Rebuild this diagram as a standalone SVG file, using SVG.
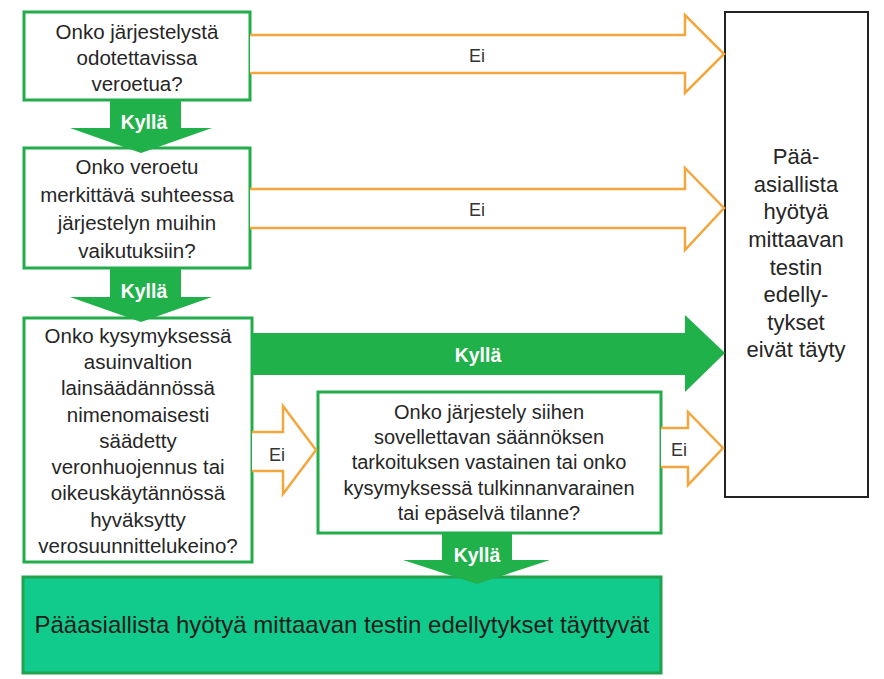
<svg xmlns="http://www.w3.org/2000/svg" width="884" height="679" viewBox="0 0 884 679">
<style>
.box{fill:#fff;stroke:#22ad4a;stroke-width:3}
.t{font-family:"Liberation Sans",Arial,sans-serif;font-size:20.5px;fill:#262626;text-anchor:middle;dominant-baseline:central}
.t4{font-size:20px}
.tr{font-size:22px}
.no{fill:#fff;stroke:#f4a63e;stroke-width:2.5;stroke-linejoin:miter}
.yes{fill:#21b14a;stroke:none}
.yl{font-family:"Liberation Sans",Arial,sans-serif;font-size:19.5px;font-weight:bold;fill:#fff;text-anchor:middle;dominant-baseline:central}
.el{font-family:"Liberation Sans",Arial,sans-serif;font-size:18px;fill:#333;text-anchor:middle;dominant-baseline:central}
</style>
<rect width="884" height="679" fill="#fff"/>
<g id="q1">
<rect class="box" x="24" y="12" width="226" height="88"/>
<text class="t" x="137" y="31">Onko järjestelystä</text>
<text class="t" x="137" y="57">odotettavissa</text>
<text class="t" x="137" y="83">veroetua?</text>
</g>
<g id="q2">
<rect class="box" x="24" y="148" width="226" height="120"/>
<text class="t" x="137" y="166">Onko veroetu</text>
<text class="t" x="137" y="194">merkittävä suhteessa</text>
<text class="t" x="137" y="222">järjestelyn muihin</text>
<text class="t" x="137" y="250">vaikutuksiin?</text>
</g>
<g id="q3">
<rect class="box" x="24" y="318" width="228" height="244"/>
<text class="t" x="138" y="335">Onko kysymyksessä</text>
<text class="t" x="138" y="361">asuinvaltion</text>
<text class="t" x="138" y="387">lainsäädännössä</text>
<text class="t" x="138" y="414">nimenomaisesti</text>
<text class="t" x="138" y="440">säädetty</text>
<text class="t" x="138" y="466">veronhuojennus tai</text>
<text class="t" x="138" y="492">oikeuskäytännössä</text>
<text class="t" x="138" y="519">hyväksytty</text>
<text class="t" x="138" y="545">verosuunnittelukeino?</text>
</g>
<g id="q4">
<rect class="box" x="318" y="392" width="343" height="141"/>
<text class="t t4" x="489" y="412">Onko järjestely siihen</text>
<text class="t t4" x="489" y="437">sovellettavan säännöksen</text>
<text class="t t4" x="489" y="462">tarkoituksen vastainen tai onko</text>
<text class="t t4" x="489" y="488">kysymyksessä tulkinnanvarainen</text>
<text class="t t4" x="489" y="513">tai epäselvä tilanne?</text>
</g>
<g id="fail">
<rect x="725" y="12" width="143" height="485" fill="#fff" stroke="#222" stroke-width="2"/>
<text class="t tr" x="796" y="156">Pää-</text>
<text class="t tr" x="796" y="184">asiallista</text>
<text class="t tr" x="796" y="211">hyötyä</text>
<text class="t tr" x="796" y="239">mittaavan</text>
<text class="t tr" x="796" y="267">testin</text>
<text class="t tr" x="796" y="294">edelly-</text>
<text class="t tr" x="796" y="322">tykset</text>
<text class="t tr" x="796" y="349">eivät täyty</text>
</g>
<g id="pass">
<rect x="23" y="577" width="638" height="96" fill="#10cb8b" stroke="#22a24c" stroke-width="3"/>
<text class="t" x="342" y="624" style="font-size:24px;fill:#1c1c1c">Pääasiallista hyötyä mittaavan testin edellytykset täyttyvät</text>
</g>
<g id="connectors">
<path class="no" d="M250,35 H685 V15 L724,54 L685,93 V73 H250"/>
<text class="el" x="477" y="56">Ei</text>
<path class="no" d="M250,189 H685 V168 L724,208 L685,250 V228 H250"/>
<text class="el" x="477" y="210">Ei</text>
<path class="no" d="M252,432 H283 V406 L316,450 L283,494 V471 H252"/>
<text class="el" x="277" y="455">Ei</text>
<path class="no" d="M661,428 H688 V412 L723,448 L688,485 V467 H661"/>
<text class="el" x="679" y="450">Ei</text>
<path class="yes" d="M110,100 H181 V128 H212 L141,153 L70,128 H110 Z"/>
<text class="yl" x="144" y="122">Kyllä</text>
<path class="yes" d="M110,268 H181 V297 H212 L141,322 L70,297 H110 Z"/>
<text class="yl" x="144" y="291">Kyllä</text>
<path class="yes" d="M252,333 H685 V315 L725,353 L685,392 V375 H252 Z"/>
<text class="yl" x="478" y="355">Kyllä</text>
<path class="yes" d="M442,533 H512 V560 H550 L477,584 L403,560 H442 Z"/>
<text class="yl" x="477" y="555">Kyllä</text>
</g>
</svg>
